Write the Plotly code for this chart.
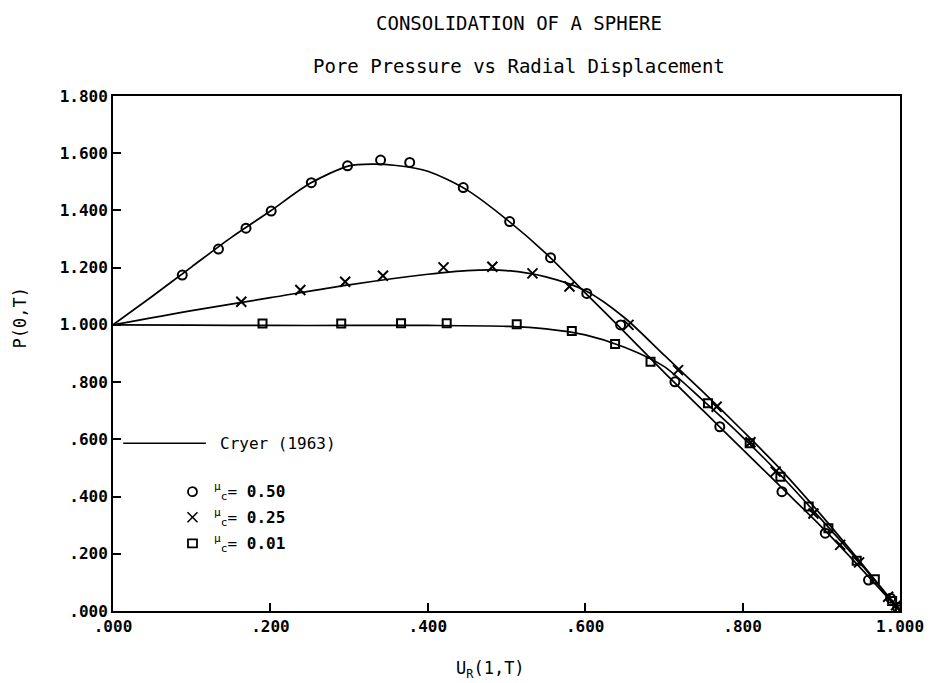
import plotly.graph_objects as go

# Cryer (1963) exact solutions, P(0,T) against U_R(1,T)
cryer_050_x = [0, 0.05, 0.1, 0.15, 0.2, 0.25, 0.3, 0.33, 0.36, 0.4, 0.45, 0.5, 0.55, 0.6,
               0.65, 0.7, 0.75, 0.8, 0.85, 0.9, 0.95, 1.0]
cryer_050_y = [1.0, 1.10, 1.203, 1.305, 1.398, 1.494, 1.556, 1.562, 1.557, 1.537, 1.471, 1.369,
               1.25, 1.112, 0.975, 0.835, 0.70, 0.565, 0.43, 0.295, 0.15, 0.0]

cryer_025_x = [0, 0.1, 0.2, 0.3, 0.4, 0.45, 0.5, 0.55, 0.6, 0.65, 0.7, 0.75, 0.8, 0.85, 0.9, 0.95, 1.0]
cryer_025_y = [1.0, 1.05, 1.095, 1.14, 1.177, 1.19, 1.19, 1.168, 1.12, 1.025, 0.895, 0.765, 0.63,
               0.49, 0.335, 0.17, 0.0]

cryer_001_x = [0, 0.1, 0.2, 0.3, 0.4, 0.5, 0.55, 0.6, 0.65, 0.7, 0.75, 0.8, 0.85, 0.9, 0.95, 1.0]
cryer_001_y = [1.0, 0.999, 0.998, 0.998, 0.998, 0.995, 0.986, 0.965, 0.922, 0.855, 0.735, 0.608,
               0.47, 0.32, 0.165, 0.0]

# Computed points
mu050_x = [0.088, 0.134, 0.169, 0.201, 0.252, 0.298, 0.340, 0.377, 0.445, 0.504, 0.556, 0.602,
           0.645, 0.714, 0.771, 0.850, 0.905, 0.960, 0.988, 0.997]
mu050_y = [1.174, 1.265, 1.338, 1.398, 1.497, 1.556, 1.576, 1.568, 1.480, 1.361, 1.235, 1.110,
           1.000, 0.801, 0.644, 0.417, 0.272, 0.108, 0.045, 0.012]

mu025_x = [0.163, 0.238, 0.295, 0.343, 0.420, 0.482, 0.533, 0.580, 0.655, 0.718, 0.767, 0.810,
           0.842, 0.890, 0.924, 0.948, 0.985, 0.995]
mu025_y = [1.081, 1.122, 1.151, 1.172, 1.201, 1.203, 1.180, 1.134, 1.000, 0.842, 0.714, 0.590,
           0.487, 0.341, 0.231, 0.170, 0.050, 0.020]

mu001_x = [0.190, 0.290, 0.366, 0.424, 0.513, 0.583, 0.638, 0.683, 0.756, 0.809, 0.848, 0.884,
           0.909, 0.945, 0.968, 0.990, 1.000]
mu001_y = [1.005, 1.005, 1.006, 1.006, 1.002, 0.979, 0.933, 0.871, 0.726, 0.586, 0.469, 0.365,
           0.289, 0.176, 0.111, 0.035, 0.005]

x_ticks = [0, 0.2, 0.4, 0.6, 0.8, 1.0]
x_tick_text = [".000", ".200", ".400", ".600", ".800", "1.000"]
y_ticks = [0, 0.2, 0.4, 0.6, 0.8, 1.0, 1.2, 1.4, 1.6, 1.8]
y_tick_text = [".000", ".200", ".400", ".600", ".800", "1.000", "1.200", "1.400", "1.600", "1.800"]

FONT = "DejaVu Sans Mono"
INK = "black"

fig = go.Figure()

for cx, cy in [(cryer_050_x, cryer_050_y), (cryer_025_x, cryer_025_y), (cryer_001_x, cryer_001_y)]:
    fig.add_trace(go.Scatter(x=cx, y=cy, mode="lines",
                             line=dict(color=INK, width=1.7, shape="spline", smoothing=0.8),
                             showlegend=False, hoverinfo="skip"))

fig.add_trace(go.Scatter(x=mu050_x, y=mu050_y, mode="markers", showlegend=False,
                         marker=dict(symbol="circle-open", size=9, color=INK, line=dict(width=2))))
fig.add_trace(go.Scatter(x=mu025_x, y=mu025_y, mode="markers", showlegend=False,
                         marker=dict(symbol="x-thin-open", size=10, color=INK, line=dict(width=2))))
fig.add_trace(go.Scatter(x=mu001_x, y=mu001_y, mode="markers", showlegend=False,
                         marker=dict(symbol="square-open", size=8, color=INK, line=dict(width=2))))

# Key drawn inside the plotting area
shapes = [
    dict(type="line", xref="paper", yref="paper", x0=0.013, x1=0.118, y0=0.3256, y1=0.3256,
         line=dict(color=INK, width=1.5)),
    dict(type="circle", xref="paper", yref="paper", xsizemode="pixel", ysizemode="pixel",
         xanchor=0.101, yanchor=0.2317, x0=-4.5, x1=4.5, y0=-4.5, y1=4.5,
         line=dict(color=INK, width=1.8)),
    dict(type="line", xref="paper", yref="paper", xsizemode="pixel", ysizemode="pixel",
         xanchor=0.101, yanchor=0.182, x0=-5, x1=5, y0=-5, y1=5, line=dict(color=INK, width=1.6)),
    dict(type="line", xref="paper", yref="paper", xsizemode="pixel", ysizemode="pixel",
         xanchor=0.101, yanchor=0.182, x0=-5, x1=5, y0=5, y1=-5, line=dict(color=INK, width=1.6)),
    dict(type="rect", xref="paper", yref="paper", xsizemode="pixel", ysizemode="pixel",
         xanchor=0.101, yanchor=0.1315, x0=-4.5, x1=4.5, y0=-4, y1=4,
         line=dict(color=INK, width=1.8)),
]

KEY_FONT = dict(family=FONT, size=16, color=INK)
annotations = [
    dict(text="Cryer (1963)", xref="paper", yref="paper", x=0.133, y=0.3256,
         xanchor="left", yanchor="middle", showarrow=False, font=KEY_FONT),
    dict(text="<sup>μ</sup><sub>c</sub>= <b>0.50</b>", xref="paper", yref="paper", x=0.126, y=0.2317,
         xanchor="left", yanchor="middle", showarrow=False, font=KEY_FONT),
    dict(text="<sup>μ</sup><sub>c</sub>= <b>0.25</b>", xref="paper", yref="paper", x=0.126, y=0.182,
         xanchor="left", yanchor="middle", showarrow=False, font=KEY_FONT),
    dict(text="<sup>μ</sup><sub>c</sub>= <b>0.01</b>", xref="paper", yref="paper", x=0.126, y=0.1315,
         xanchor="left", yanchor="middle", showarrow=False, font=KEY_FONT),
    dict(text="CONSOLIDATION OF A SPHERE", xref="paper", yref="paper", x=0.516, y=1.0,
         yshift=73, xanchor="center", yanchor="middle", showarrow=False,
         font=dict(family=FONT, size=19, color=INK)),
    dict(text="Pore Pressure vs Radial Displacement", xref="paper", yref="paper", x=0.516, y=1.0,
         yshift=30, xanchor="center", yanchor="middle", showarrow=False,
         font=dict(family=FONT, size=19, color=INK)),
    dict(text="P(0,T)", xref="paper", yref="paper", x=0.0, y=0.568, xshift=-93,
         textangle=-90, xanchor="center", yanchor="middle", showarrow=False,
         font=dict(family=FONT, size=17, color=INK)),
    dict(text="U<sub>R</sub>(1,T)", xref="paper", yref="paper", x=0.48, y=0.0, yshift=-58,
         xanchor="center", yanchor="middle", showarrow=False,
         font=dict(family=FONT, size=17, color=INK)),
]

TICK_FONT = dict(family=FONT, size=16, color=INK, weight="bold")

fig.update_layout(
    width=936, height=683,
    margin=dict(l=113, r=29, t=96, b=72),
    paper_bgcolor="white", plot_bgcolor="white",
    font=dict(family=FONT, size=15, color=INK),
    shapes=shapes, annotations=annotations,
    xaxis=dict(range=[0, 1.0], tickvals=x_ticks, ticktext=x_tick_text,
               ticks="inside", ticklen=8, tickwidth=1.5, tickcolor=INK,
               showline=True, linecolor=INK, linewidth=2, mirror=True,
               showgrid=False, zeroline=False, tickfont=TICK_FONT),
    yaxis=dict(range=[0, 1.8], tickvals=y_ticks, ticktext=y_tick_text,
               ticks="inside", ticklen=8, tickwidth=1.5, tickcolor=INK,
               showline=True, linecolor=INK, linewidth=2, mirror=True,
               showgrid=False, zeroline=False, tickfont=TICK_FONT),
)

fig.write_html("out.html")
